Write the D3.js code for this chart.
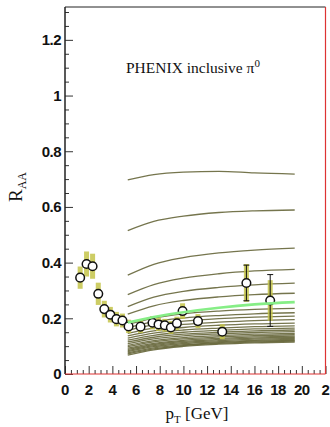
<!DOCTYPE html>
<html>
<head>
<meta charset="utf-8">
<script src="https://cdn.jsdelivr.net/npm/d3@7"></script>
<style>
    html, body { margin: 0; padding: 0; background: #fff; }
    svg { display: block; }
    .tick-label { font-family: 'Liberation Sans', Arial, sans-serif; font-weight: bold; font-size: 15px; fill: #111; }
    .serif { font-family: 'Liberation Serif', 'Times New Roman', serif; fill: #111; }
</style>
</head>
<body>
<div id="chart"></div>
<script>
// data points (PHENIX pi0)
const pt = [1.28, 1.82, 2.33, 2.81, 3.32, 3.83, 4.34, 4.85, 5.37, 6.38, 7.39, 7.9, 8.43, 8.94, 9.45, 9.93, 11.23, 13.28, 15.32, 17.33];
const raa = [0.346, 0.395, 0.387, 0.288, 0.233, 0.213, 0.197, 0.192, 0.171, 0.170, 0.184, 0.178, 0.175, 0.167, 0.182, 0.226, 0.190, 0.152, 0.327, 0.264];
const sysErr = [0.040, 0.045, 0.045, 0.040, 0.030, 0.028, 0.026, 0.025, 0.024, 0.023, 0.024, 0.024, 0.023, 0.023, 0.024, 0.028, 0.025, 0.027, 0.068, 0.073];
const statErr = [0, 0, 0, 0, 0, 0, 0, 0, 0, 0, 0, 0, 0, 0, 0, 0.012, 0, 0, 0.064, 0.093];

// model curves, sampled at these pT
const curvePt = [5.3, 7.5, 10, 13, 16, 19.4];
const curves = [
    [0.697, 0.716, 0.725, 0.728, 0.722, 0.718],
    [0.515, 0.548, 0.567, 0.580, 0.586, 0.589],
    [0.355, 0.394, 0.418, 0.435, 0.445, 0.452],
    [0.285, 0.321, 0.344, 0.360, 0.370, 0.376],
    [0.242, 0.276, 0.297, 0.311, 0.320, 0.326],
    [0.215, 0.245, 0.264, 0.277, 0.285, 0.290],
    [0.178, 0.201, 0.216, 0.226, 0.232, 0.236],
    [0.166, 0.188, 0.201, 0.210, 0.216, 0.220],
    [0.156, 0.177, 0.190, 0.199, 0.204, 0.208],
    [0.146, 0.166, 0.178, 0.186, 0.192, 0.195],
    [0.137, 0.155, 0.167, 0.175, 0.180, 0.183],
    [0.129, 0.147, 0.158, 0.165, 0.170, 0.173],
    [0.122, 0.139, 0.150, 0.157, 0.162, 0.165],
    [0.115, 0.132, 0.143, 0.150, 0.155, 0.158],
    [0.109, 0.126, 0.137, 0.144, 0.149, 0.152],
    [0.103, 0.120, 0.131, 0.138, 0.143, 0.146],
    [0.098, 0.115, 0.126, 0.133, 0.138, 0.141],
    [0.093, 0.110, 0.121, 0.128, 0.133, 0.136],
    [0.088, 0.106, 0.117, 0.124, 0.129, 0.132],
    [0.084, 0.102, 0.113, 0.120, 0.125, 0.128],
    [0.080, 0.098, 0.109, 0.116, 0.121, 0.124],
    [0.076, 0.094, 0.105, 0.113, 0.118, 0.121],
    [0.072, 0.090, 0.102, 0.110, 0.115, 0.118],
    [0.068, 0.087, 0.099, 0.107, 0.112, 0.115],
];
const greenCurve = [0.185, 0.205, 0.222, 0.238, 0.250, 0.258];

const xTicks = [0, 2, 4, 6, 8, 10, 12, 14, 16, 18, 20, 22];
const xTickLabels = ['0', '2', '4', '6', '8', '10', '12', '14', '16', '18', '20', '2'];
const yTicks = [0, 0.2, 0.4, 0.6, 0.8, 1, 1.2];
const yTickLabels = ['0', '0.2', '0.4', '0.6', '0.8', '1', '1.2'];

/**
 * APP
 */
const W = 330;
const H = 427;
const X0 = 65;
const X1 = 325.5;
const Y0 = 374;
const Y1 = 7;

const x = d3.scaleLinear().domain([0, 22]).range([X0, X1]);
const y = d3.scaleLinear().domain([0, 1.318]).range([Y0, Y1]);

const svg = d3.select('#chart')
    .append('svg')
    .attr('width', W)
    .attr('height', H);

// model curves
const line = d3.line()
    .x((d, i) => x(curvePt[i]))
    .y(d => y(d))
    .curve(d3.curveMonotoneX);

svg.append('g')
    .selectAll('path')
    .data(curves)
    .enter()
    .append('path')
    .attr('d', line)
    .attr('fill', 'none')
    .attr('stroke', '#66663a')
    .attr('stroke-width', 1.3)
    .attr('stroke-opacity', 0.9);

// systematic error boxes
const pts = pt.map((p, i) => ({ p, r: raa[i], sys: sysErr[i], stat: statErr[i] }));

svg.append('g')
    .selectAll('rect')
    .data(pts)
    .enter()
    .append('rect')
    .attr('x', d => x(d.p) - 2.5)
    .attr('width', 5)
    .attr('y', d => y(d.r + d.sys))
    .attr('height', d => y(d.r - d.sys) - y(d.r + d.sys))
    .attr('fill', '#c4c44a')
    .attr('fill-opacity', 0.85);

// stat error bars
const statG = svg.append('g')
    .selectAll('g')
    .data(pts.filter(d => d.stat > 0))
    .enter()
    .append('g')
    .attr('stroke', '#111')
    .attr('stroke-width', 1);

statG.append('line')
    .attr('x1', d => x(d.p))
    .attr('x2', d => x(d.p))
    .attr('y1', d => y(d.r + d.stat))
    .attr('y2', d => y(d.r - d.stat));
statG.append('line')
    .attr('x1', d => x(d.p) - 3)
    .attr('x2', d => x(d.p) + 3)
    .attr('y1', d => y(d.r + d.stat))
    .attr('y2', d => y(d.r + d.stat));
statG.append('line')
    .attr('x1', d => x(d.p) - 3)
    .attr('x2', d => x(d.p) + 3)
    .attr('y1', d => y(d.r - d.stat))
    .attr('y2', d => y(d.r - d.stat));

// open circles
svg.append('g')
    .selectAll('circle')
    .data(pts)
    .enter()
    .append('circle')
    .attr('cx', d => x(d.p))
    .attr('cy', d => y(d.r))
    .attr('r', 4.3)
    .attr('fill', '#fff')
    .attr('stroke', '#111')
    .attr('stroke-width', 1.5);

// green curve on top
svg.append('path')
    .datum(greenCurve)
    .attr('d', line)
    .attr('fill', 'none')
    .attr('stroke', '#86ee86')
    .attr('stroke-width', 2.6);

/**
 * Axes (ROOT style: ticks inside)
 */
const yAxis = d3.axisRight(y)
    .tickValues(d3.range(0, 1.3001, 0.05))
    .tickSize(4)
    .tickFormat('');
svg.append('g')
    .attr('transform', `translate(${X0},0)`)
    .call(yAxis)
    .call(g => g.select('.domain').remove())
    .call(g => g.selectAll('.tick line')
        .attr('x2', d => (Math.abs(d * 5 - Math.round(d * 5)) < 1e-6 ? 8 : 4))
        .attr('stroke', '#333'));

const xAxis = d3.axisTop(x)
    .tickValues(d3.range(0, 22.001, 0.5))
    .tickSize(4)
    .tickFormat('');
svg.append('g')
    .attr('transform', `translate(0,${Y0})`)
    .call(xAxis)
    .call(g => g.select('.domain').remove())
    .call(g => g.selectAll('.tick line')
        .attr('y2', d => (d % 2 === 0 ? -8 : -4))
        .attr('stroke', '#333'));

// frame
svg.append('line')
    .attr('x1', X0).attr('x2', X1).attr('y1', Y1).attr('y2', Y1)
    .attr('stroke', '#222').attr('stroke-width', 1);
svg.append('line')
    .attr('x1', X0).attr('x2', X0).attr('y1', Y1).attr('y2', Y0)
    .attr('stroke', '#222').attr('stroke-width', 1.5);
svg.append('line')
    .attr('x1', X1).attr('x2', X1).attr('y1', Y1).attr('y2', Y0)
    .attr('stroke', '#d33').attr('stroke-width', 1.2);
svg.append('line')
    .attr('x1', X0).attr('x2', X1).attr('y1', Y0).attr('y2', Y0)
    .attr('stroke', '#d33').attr('stroke-width', 1.2);

// tick labels
svg.append('g')
    .selectAll('text')
    .data(yTicks)
    .enter()
    .append('text')
    .attr('class', 'tick-label')
    .attr('x', 61)
    .attr('y', d => y(d))
    .attr('dy', '0.36em')
    .attr('text-anchor', 'end')
    .attr('letter-spacing', -0.5)
    .text((d, i) => yTickLabels[i]);

svg.append('g')
    .selectAll('text')
    .data(xTicks)
    .enter()
    .append('text')
    .attr('class', 'tick-label')
    .attr('x', d => x(d))
    .attr('y', 395)
    .attr('text-anchor', 'middle')
    .attr('letter-spacing', -0.5)
    .text((d, i) => xTickLabels[i]);

// axis titles
const xTitle = svg.append('text')
    .attr('class', 'serif')
    .attr('x', 197)
    .attr('y', 419)
    .attr('text-anchor', 'middle')
    .attr('font-size', 17);
xTitle.append('tspan').text('p');
xTitle.append('tspan').attr('font-size', 11).attr('dy', 4).text('T');
xTitle.append('tspan').attr('dy', -4).text(' [GeV]');

const yTitle = svg.append('text')
    .attr('class', 'serif')
    .attr('transform', 'translate(22,202) rotate(-90)')
    .attr('text-anchor', 'start')
    .attr('font-size', 19);
yTitle.append('tspan').text('R');
yTitle.append('tspan').attr('font-size', 12).attr('dy', 4).text('AA');

// label
const label = svg.append('text')
    .attr('class', 'serif')
    .attr('x', 126)
    .attr('y', 73)
    .attr('font-size', 15.5);
label.append('tspan').text('PHENIX inclusive π');
label.append('tspan').attr('font-size', 11).attr('dy', -6).text('0');
</script>
</body>
</html>
